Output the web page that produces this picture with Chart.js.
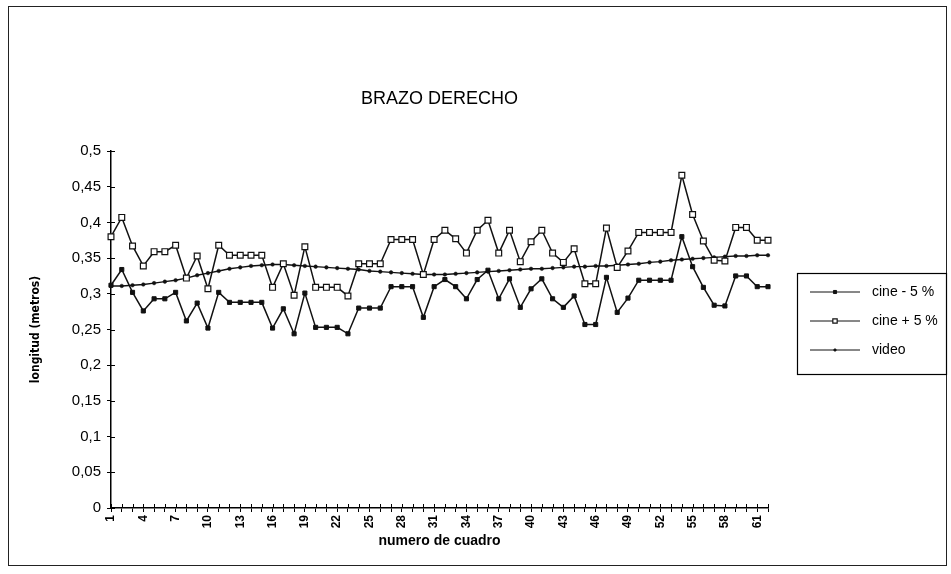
<!DOCTYPE html>
<html>
<head>
<meta charset="utf-8">
<title>Brazo derecho</title>
<script src="https://cdn.jsdelivr.net/npm/chart.js@4.4.0/dist/chart.umd.min.js"></script>
<style>
  html, body { margin: 0; padding: 0; background: #fff; }
  canvas { display: block; }
</style>
</head>
<body>
<canvas id="brazo" width="951" height="574"></canvas>
<script>
// numero de cuadro
const cuadros = [
  '1','2','3','4','5','6','7','8','9','10','11','12','13','14','15','16','17','18','19','20','21',
  '22','23','24','25','26','27','28','29','30','31','32','33','34','35','36','37','38','39','40','41',
  '42','43','44','45','46','47','48','49','50','51','52','53','54','55','56','57','58','59','60','61','62'
];

// longitud (metros)
const cineMenos5 = [
  0.312, 0.334, 0.302, 0.276, 0.293, 0.293, 0.302, 0.262, 0.287, 0.252,
  0.302, 0.288, 0.288, 0.288, 0.288, 0.252, 0.279, 0.244, 0.301, 0.253,
  0.253, 0.253, 0.244, 0.280, 0.280, 0.280, 0.310, 0.310, 0.310, 0.267,
  0.310, 0.320, 0.310, 0.293, 0.320, 0.333, 0.293, 0.321, 0.281, 0.307,
  0.321, 0.293, 0.281, 0.297, 0.257, 0.257, 0.323, 0.274, 0.294, 0.319,
  0.319, 0.319, 0.319, 0.380, 0.338, 0.309, 0.284, 0.283, 0.325, 0.325,
  0.310, 0.310
];

const cineMas5 = [
  0.380, 0.407, 0.367, 0.339, 0.359, 0.359, 0.368, 0.322, 0.353, 0.307,
  0.368, 0.354, 0.354, 0.354, 0.354, 0.309, 0.342, 0.298, 0.366, 0.309,
  0.309, 0.309, 0.297, 0.342, 0.342, 0.342, 0.376, 0.376, 0.376, 0.327,
  0.376, 0.389, 0.377, 0.357, 0.389, 0.403, 0.357, 0.389, 0.345, 0.373,
  0.389, 0.357, 0.344, 0.363, 0.314, 0.314, 0.392, 0.337, 0.360, 0.386,
  0.386, 0.386, 0.386, 0.466, 0.411, 0.374, 0.347, 0.346, 0.393, 0.393,
  0.375, 0.375
];

const video = [
  0.311, 0.311, 0.312, 0.313, 0.315, 0.317, 0.319, 0.322, 0.326, 0.329,
  0.332, 0.335, 0.337, 0.339, 0.340, 0.341, 0.341, 0.340, 0.339, 0.338,
  0.337, 0.336, 0.335, 0.334, 0.332, 0.331, 0.330, 0.329, 0.328, 0.327,
  0.327, 0.327, 0.328, 0.329, 0.330, 0.331, 0.332, 0.333, 0.334, 0.335,
  0.335, 0.336, 0.337, 0.338, 0.338, 0.339, 0.339, 0.340, 0.341, 0.342,
  0.344, 0.345, 0.347, 0.348, 0.349, 0.350, 0.351, 0.352, 0.353, 0.353,
  0.354, 0.354
];

const marcasY = ['0', '0,05', '0,1', '0,15', '0,2', '0,25', '0,3', '0,35', '0,4', '0,45', '0,5'];

const FUENTE = '"Liberation Sans", Arial, sans-serif';
Chart.defaults.font.family = FUENTE;
Chart.defaults.color = '#000';

// white background and the thin frame round the whole chart
const marco = {
  id: 'marco',
  beforeDraw(chart) {
    const c = chart.ctx;
    c.save();
    c.fillStyle = '#fff';
    c.fillRect(0, 0, chart.width, chart.height);
    c.strokeStyle = '#222';
    c.lineWidth = 1;
    c.strokeRect(8.5, 6.5, 938, 559);
    c.restore();
  }
};

// tick marks that cross the axis lines (inner half)
const marcasCruzadas = {
  id: 'marcasCruzadas',
  afterDraw(chart) {
    const { ctx, scales: { x, y } } = chart;
    ctx.save();
    ctx.strokeStyle = '#000';
    ctx.lineWidth = 1;
    ctx.beginPath();
    x.ticks.forEach((t, i) => {
      const px = Math.round(x.getPixelForTick(i)) + 0.5;
      ctx.moveTo(px, x.top);
      ctx.lineTo(px, x.top - 4);
    });
    y.ticks.forEach((t, i) => {
      const py = Math.round(y.getPixelForTick(i)) + 0.5;
      ctx.moveTo(y.right, py);
      ctx.lineTo(y.right + 4, py);
    });
    ctx.stroke();
    ctx.restore();
  }
};

// boxed legend on the right: line with the marker in the middle, then the name
const leyenda = {
  id: 'leyenda',
  afterDraw(chart) {
    const ctx = chart.ctx;
    const box = { x: 797, y: 273, w: 149, h: 101 };
    ctx.save();
    ctx.strokeStyle = '#000';
    ctx.lineWidth = 1.2;
    ctx.strokeRect(box.x + 0.5, box.y + 0.5, box.w, box.h);
    ctx.font = '14px ' + FUENTE;
    ctx.textBaseline = 'middle';
    chart.data.datasets.forEach((ds, i) => {
      const yy = box.y + 19 + i * 29;
      ctx.strokeStyle = ds.borderColor;
      ctx.lineWidth = 1;
      ctx.beginPath();
      ctx.moveTo(box.x + 13, yy);
      ctx.lineTo(box.x + 63, yy);
      ctx.stroke();
      ctx.fillStyle = ds.pointBackgroundColor;
      ctx.strokeStyle = ds.pointBorderColor;
      ctx.lineWidth = ds.pointBorderWidth;
      Chart.helpers.drawPoint(ctx, {
        pointStyle: ds.pointStyle,
        radius: ds.pointRadius * 0.75,
        rotation: 0,
        borderWidth: ds.pointBorderWidth
      }, box.x + 38, yy);
      ctx.fillStyle = '#000';
      ctx.fillText(ds.label, box.x + 75, yy);
    });
    ctx.restore();
  }
};

new Chart(document.getElementById('brazo'), {
  type: 'line',
  data: {
    labels: cuadros,
    datasets: [
      {
        label: 'cine - 5 %',
        data: cineMenos5,
        borderColor: '#111',
        borderWidth: 1.5,
        pointStyle: 'rect',
        pointRadius: 2.9,
        pointBackgroundColor: '#111',
        pointBorderColor: '#111',
        pointBorderWidth: 1,
        tension: 0,
        clip: false
      },
      {
        label: 'cine + 5 %',
        data: cineMas5,
        borderColor: '#111',
        borderWidth: 1.5,
        pointStyle: 'rect',
        pointRadius: 4.1,
        pointBackgroundColor: '#fff',
        pointBorderColor: '#111',
        pointBorderWidth: 1.2,
        tension: 0,
        clip: false
      },
      {
        label: 'video',
        data: video,
        borderColor: '#111',
        borderWidth: 1.4,
        pointStyle: 'circle',
        pointRadius: 1.8,
        pointBackgroundColor: '#111',
        pointBorderColor: '#111',
        pointBorderWidth: 0.5,
        tension: 0,
        clip: false
      }
    ]
  },
  options: {
    responsive: false,
    animation: false,
    devicePixelRatio: 1,
    layout: { padding: { left: 21, right: 183, top: 0, bottom: 22 } },
    plugins: {
      legend: { display: false },
      tooltip: { enabled: false },
      title: {
        display: true,
        text: 'BRAZO DERECHO',
        fullSize: false,
        color: '#000',
        font: { size: 18, weight: 'normal' },
        padding: { top: 88, bottom: 41.4 }
      }
    },
    scales: {
      x: {
        type: 'category',
        offset: false,
        grid: { drawOnChartArea: false, drawTicks: true, tickLength: 4, color: '#000', lineWidth: 1 },
        border: { color: '#000', width: 1.5 },
        ticks: {
          autoSkip: false,
          minRotation: 90,
          maxRotation: 90,
          padding: 3,
          font: { size: 12, weight: 'bold' },
          callback: (v, i) => (i % 3 === 0 ? cuadros[i] : '')
        },
        title: {
          display: true,
          text: 'numero de cuadro',
          font: { size: 14, weight: 'bold' },
          padding: { top: 0, bottom: 2 }
        },
        afterFit: s => { s.height = 44; }
      },
      y: {
        min: 0,
        max: 0.5,
        grid: { drawOnChartArea: false, drawTicks: true, tickLength: 4, color: '#000', lineWidth: 1 },
        border: { color: '#000', width: 1.5 },
        ticks: {
          stepSize: 0.05,
          padding: 6,
          font: { size: 15 },
          callback: (v, i) => marcasY[i]
        },
        title: {
          display: true,
          text: 'longitud (metros)',
          font: { family: '"Liberation Sans Narrow", "DejaVu Sans Condensed", sans-serif', size: 12, weight: 'bold' },
          padding: { top: 8, bottom: 0 }
        },
        afterFit: s => { s.width = 90; }
      }
    }
  },
  plugins: [marco, marcasCruzadas, leyenda]
});
</script>
</body>
</html>
